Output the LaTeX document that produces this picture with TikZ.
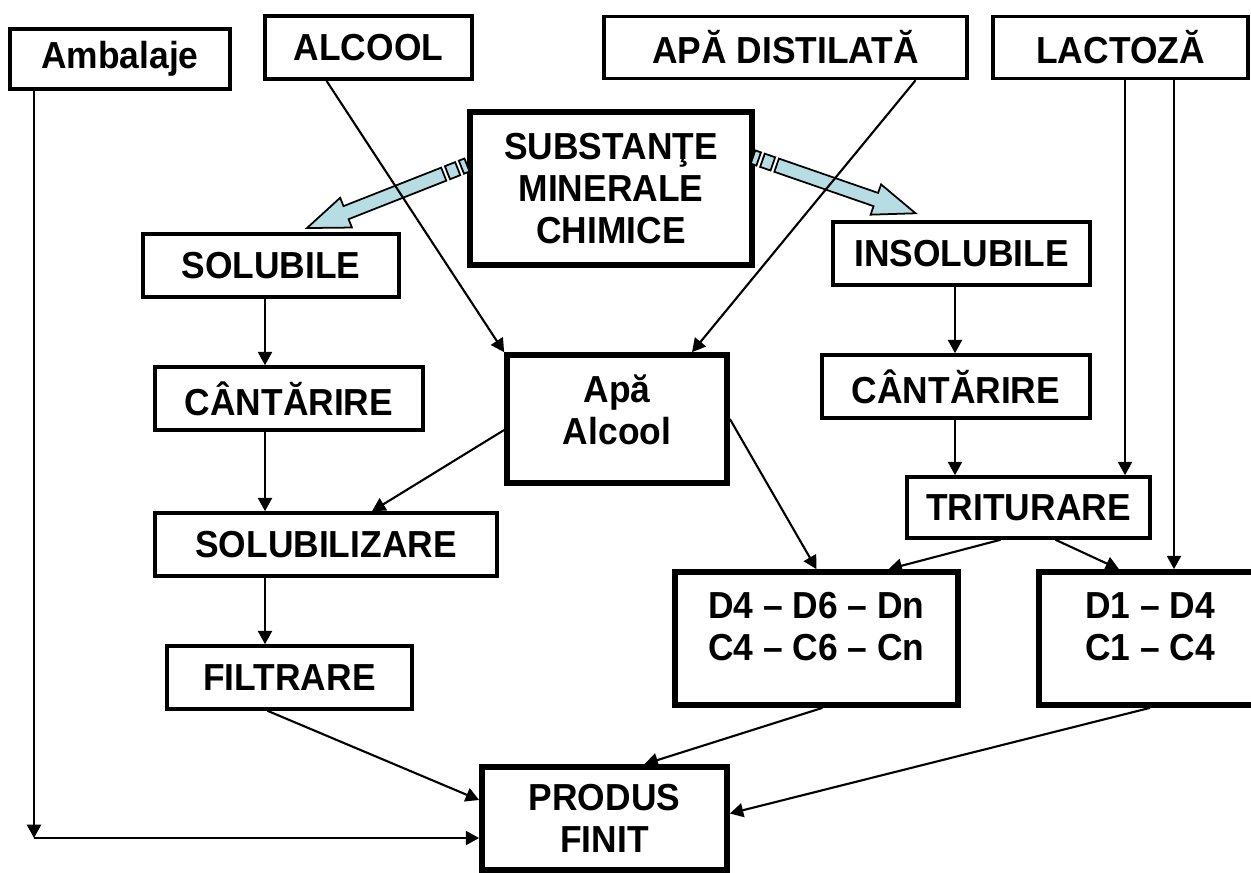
\documentclass[tikz,border=0pt]{standalone}
\usepackage{fontspec}
\setmainfont{Liberation Sans}[FakeStretch=0.94]
\usetikzlibrary{arrows.meta,positioning}
\definecolor{paleblue}{RGB}{182,221,227}

\begin{document}
\begin{tikzpicture}[x=0.01cm,y=-0.01cm,
        font={\fontsize{10.7}{12}\selectfont\bfseries},
        box/.style={draw,line width=1pt,inner sep=0pt,align=center},
        bigbox/.style={draw,line width=1.6pt,inner sep=0pt,align=center},
        arr/.style={-{Triangle[length=3.8pt,width=4pt]},line width=.6pt},
        fat/.style={draw=black,fill=paleblue,line width=.5pt}]
    \useasboundingbox (0,0) rectangle (1251,872);

    % raw materials
    \node[box,minimum width=2.2cm,minimum height=.6cm] (amb) at (120,59) {Ambalaje};
    \node[box,minimum width=2.07cm,minimum height=.63cm] (alc) at (368.5,47.5) {ALCOOL};
    \node[box,minimum width=3.63cm,minimum height=.62cm] (apa) at (785.5,47.5) {APĂ DISTILATĂ};
    \node[box,minimum width=2.55cm,minimum height=.62cm] (lac) at (1120.5,47.5) {LACTOZĂ};
    \node[bigbox,minimum width=2.82cm,minimum height=1.53cm] (subst) at (611,188.5) {SUBSTANŢE\\MINERALE\\CHIMICE};

    % two branches
    \node[box,minimum width=2.56cm,minimum height=.63cm] (sol) at (271,265.5) {SOLUBILE};
    \node[box,minimum width=2.57cm,minimum height=.63cm] (insol) at (961.5,253.5) {INSOLUBILE};
    \node[box,minimum width=2.68cm,minimum height=.63cm] (cant_l) at (289,398.5) {CÂNTĂRIRE};
    \node[box,minimum width=2.68cm,minimum height=.63cm] (cant_r) at (956,386.5) {CÂNTĂRIRE};
    \node[bigbox,minimum width=2.2cm,minimum height=1.28cm,
        label={[align=center,yshift=.09cm]center:Apă\\Alcool}] (apalc) at (617,419) {};
    \node[box,minimum width=2.43cm,minimum height=.61cm] (trit) at (1028.5,507.5) {TRITURARE};
    \node[box,minimum width=3.42cm,minimum height=.63cm] (solz) at (326,544.5) {SOLUBILIZARE};
    \node[box,minimum width=2.45cm,minimum height=.63cm] (filt) at (289.5,677.5) {FILTRARE};
    \node[bigbox,minimum width=2.83cm,minimum height=1.33cm,
        label={[align=center,yshift=.12cm]center:D4 – D6 – Dn\\C4 – C6 – Cn}] (d_46) at (816.5,638.5) {};
    \node[bigbox,minimum width=2.22cm,minimum height=1.33cm,
        label={[align=center,yshift=.12cm]center:D1 – D4\\C1 – C4}] (d_14) at (1150,638.5) {};
    \node[bigbox,minimum width=2.45cm,minimum height=1.03cm] (prod) at (604.5,818.5) {PRODUS\\FINIT};

    % block arrows out of the mineral substances
    \coordinate (tail_l) at (467,165);
    \coordinate (tail_r) at (753,157);
    \foreach \t/\a in {tail_l/201.5,tail_r/-19.1}{
        \begin{scope}[shift={(\t)},rotate=\a]
            \draw[fat] (0,-7) rectangle (6,7);
            \draw[fat] (10,-7) rectangle (21,7);
            \draw[fat] (25,-7) -- (130,-7) -- (130,-16) -- (172,0)
                -- (130,16) -- (130,7) -- (25,7) -- cycle;
        \end{scope}
    }

    % connectors
    \coordinate (col_l) at (265,0);
    \coordinate (col_r) at (955,0);
    \coordinate (col_a) at (1125,0);
    \coordinate (col_b) at (1174,0);
    \coordinate (corner) at (34,838);

    \draw[arr] (sol.south -| col_l) -- (cant_l.north -| col_l);
    \draw[arr] (cant_l.south -| col_l) -- (solz.north -| col_l);
    \draw[arr] (solz.south -| col_l) -- (filt.north -| col_l);
    \draw[arr] (insol.south -| col_r) -- (cant_r.north -| col_r);
    \draw[arr] (cant_r.south -| col_r) -- (trit.north -| col_r);
    \draw[arr] (lac.south -| col_a) -- (trit.north -| col_a);
    \draw[arr] (lac.south -| col_b) -- (d_14.north -| col_b);
    \draw[arr] ([xshift=-.42cm]alc.south) -- (apalc.north west);
    \draw[arr] ([xshift=1.3cm]apa.south) -- ([xshift=.75cm]apalc.north);
    \draw[arr] ([yshift=-.11cm]apalc.west) -- ([xshift=.46cm]solz.north);
    \draw[arr] (apalc.east) -- (d_46.north);
    \draw[arr] ([xshift=-.28cm]trit.south) -- ([xshift=.72cm]d_46.north);
    \draw[arr] ([xshift=.27cm]trit.south) -- ([xshift=-.31cm]d_14.north);
    \draw[arr] ([xshift=-.22cm]filt.south) -- ([yshift=.185cm]prod.west);
    \draw[arr] ([xshift=.06cm]d_46.south) -- ([xshift=.4cm]prod.north);
    \draw[arr] (d_14.south) -- ([yshift=.05cm]prod.east);
    \draw[arr] (amb.south -| corner) -- (corner);
    \draw[arr] (corner) -- (corner -| prod.west);
\end{tikzpicture}
\end{document}
